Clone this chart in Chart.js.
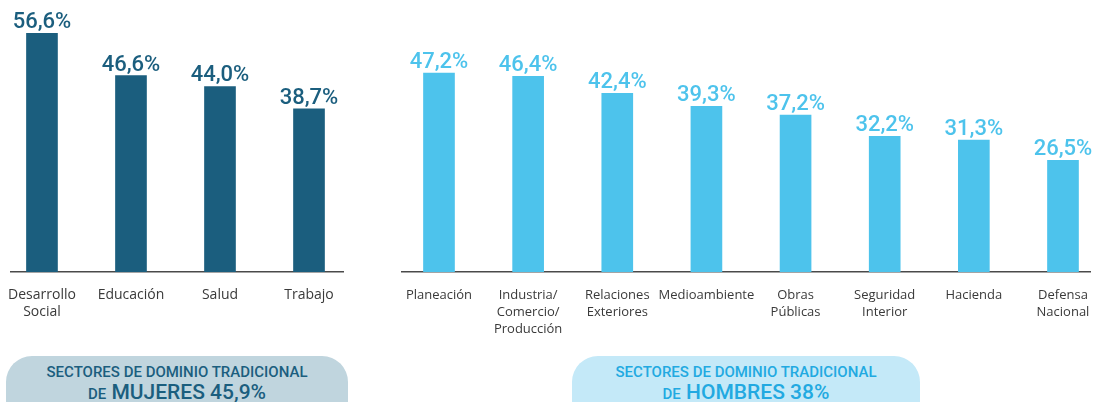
<!DOCTYPE html>
<html>
<head>
<meta charset="utf-8">
<script src="https://cdn.jsdelivr.net/npm/chart.js@4.4.0/dist/chart.umd.min.js"></script>
<style>
  html, body { margin: 0; padding: 0; background: #fff; width: 1096px; height: 402px; overflow: hidden; position: relative; }
  .box { position: absolute; top: 0; height: 342px; }
  #boxMujeres { left: 0; width: 370px; }
  #boxHombres { left: 380px; width: 716px; }
  .pill { position: absolute; top: 356px; height: 70px; border-radius: 26px; text-align: center; font-family: Roboto, sans-serif; font-weight: 500; }
  .pill .l1 { font-size: 15px; margin-top: 8px; line-height: 16px; }
  .pill .l2 { font-size: 21px; line-height: 22px; margin-top: 1px; }
  .pill .l2 small { font-size: 15px; }
  #pillMujeres { left: 6px; width: 342px; background: #c0d5de; color: #1b5e7e; }
  #pillHombres { left: 572px; width: 348px; background: #c4e9f8; color: #22a9e1; }
</style>
</head>
<body>
<div class="box" id="boxMujeres"><canvas id="chartMujeres"></canvas></div>
<div class="box" id="boxHombres"><canvas id="chartHombres"></canvas></div>
<div class="pill" id="pillMujeres"><div class="l1">SECTORES DE DOMINIO TRADICIONAL</div><div class="l2"><small>DE</small> MUJERES 45,9%</div></div>
<div class="pill" id="pillHombres"><div class="l1">SECTORES DE DOMINIO TRADICIONAL</div><div class="l2"><small>DE</small> HOMBRES 38%</div></div>
<script>
// Sectores de dominio tradicional de mujeres
const sectoresMujeres = [['Desarrollo', 'Social'], 'Educación', 'Salud', 'Trabajo'];
const valoresMujeres = [56.6, 46.6, 44.0, 38.7];

// Sectores de dominio tradicional de hombres
const sectoresHombres = ['Planeación', ['Industria/', 'Comercio/', 'Producción'], ['Relaciones', 'Exteriores'],
    'Medioambiente', ['Obras', 'Públicas'], ['Seguridad', 'Interior'], 'Hacienda', ['Defensa', 'Nacional']];
const valoresHombres = [47.2, 46.4, 42.4, 39.3, 37.2, 32.2, 31.3, 26.5];

const formatoPorcentaje = v => v.toFixed(1).replace('.', ',') + '%';

// Etiquetas de valor encima de cada barra
const etiquetasValor = {
    id: 'etiquetasValor',
    afterDatasetsDraw(chart) {
        const ctx = chart.ctx;
        const ds = chart.data.datasets[0];
        ctx.save();
        ctx.fillStyle = ds.backgroundColor;
        ctx.font = '500 22px Roboto, sans-serif';
        ctx.textAlign = 'center';
        ctx.textBaseline = 'alphabetic';
        chart.getDatasetMeta(0).data.forEach((bar, i) => {
            ctx.fillText(formatoPorcentaje(ds.data[i].y), bar.x, bar.y - 5);
        });
        ctx.restore();
    }
};

function buatGrafik(id, sectores, valores, color, xMin, xMax, padLeft, padRight, tickSize) {
    new Chart(document.getElementById(id), {
        type: 'bar',
        data: {
            datasets: [{
                data: valores.map((v, i) => ({ x: i, y: v })),
                backgroundColor: color,
                barThickness: 31,
            }]
        },
        options: {
            responsive: true,
            maintainAspectRatio: false,
            animation: false,
            layout: { padding: { top: 19, left: padLeft, right: padRight, bottom: 0 } },
            plugins: { legend: { display: false }, tooltip: { enabled: false } },
            scales: {
                x: {
                    type: 'linear',
                    offset: false,
                    min: xMin,
                    max: xMax,
                    grid: { display: false, drawTicks: false, offset: false },
                    border: { display: true, color: '#4a4a4a', width: 1.5 },
                    afterBuildTicks(scale) {
                        scale.ticks = sectores.map((_, i) => ({ value: i }));
                    },
                    afterFit(scale) {
                        scale.height = 70;
                        scale.paddingLeft = 0; // label di tepi tidak boleh menyempitkan area grafik
                        scale.paddingRight = 0;
                    },
                    ticks: {
                        autoSkip: false,
                        maxRotation: 0,
                        padding: 15,
                        color: '#3a3a3a',
                        font: { family: 'Open Sans', size: tickSize, lineHeight: 17 / tickSize },
                        callback: v => sectores[v]
                    }
                },
                y: {
                    display: false,
                    min: 0,
                    max: 60
                }
            }
        },
        plugins: [etiquetasValor]
    });
}

buatGrafik('chartMujeres', sectoresMujeres, valoresMujeres, '#1b5e7e', -0.348, 3.382, 11, 27, 14);
buatGrafik('chartHombres', sectoresHombres, valoresHombres, '#4dc3ec', -0.415, 7.303, 22, 6, 13);
</script>
</body>
</html>
